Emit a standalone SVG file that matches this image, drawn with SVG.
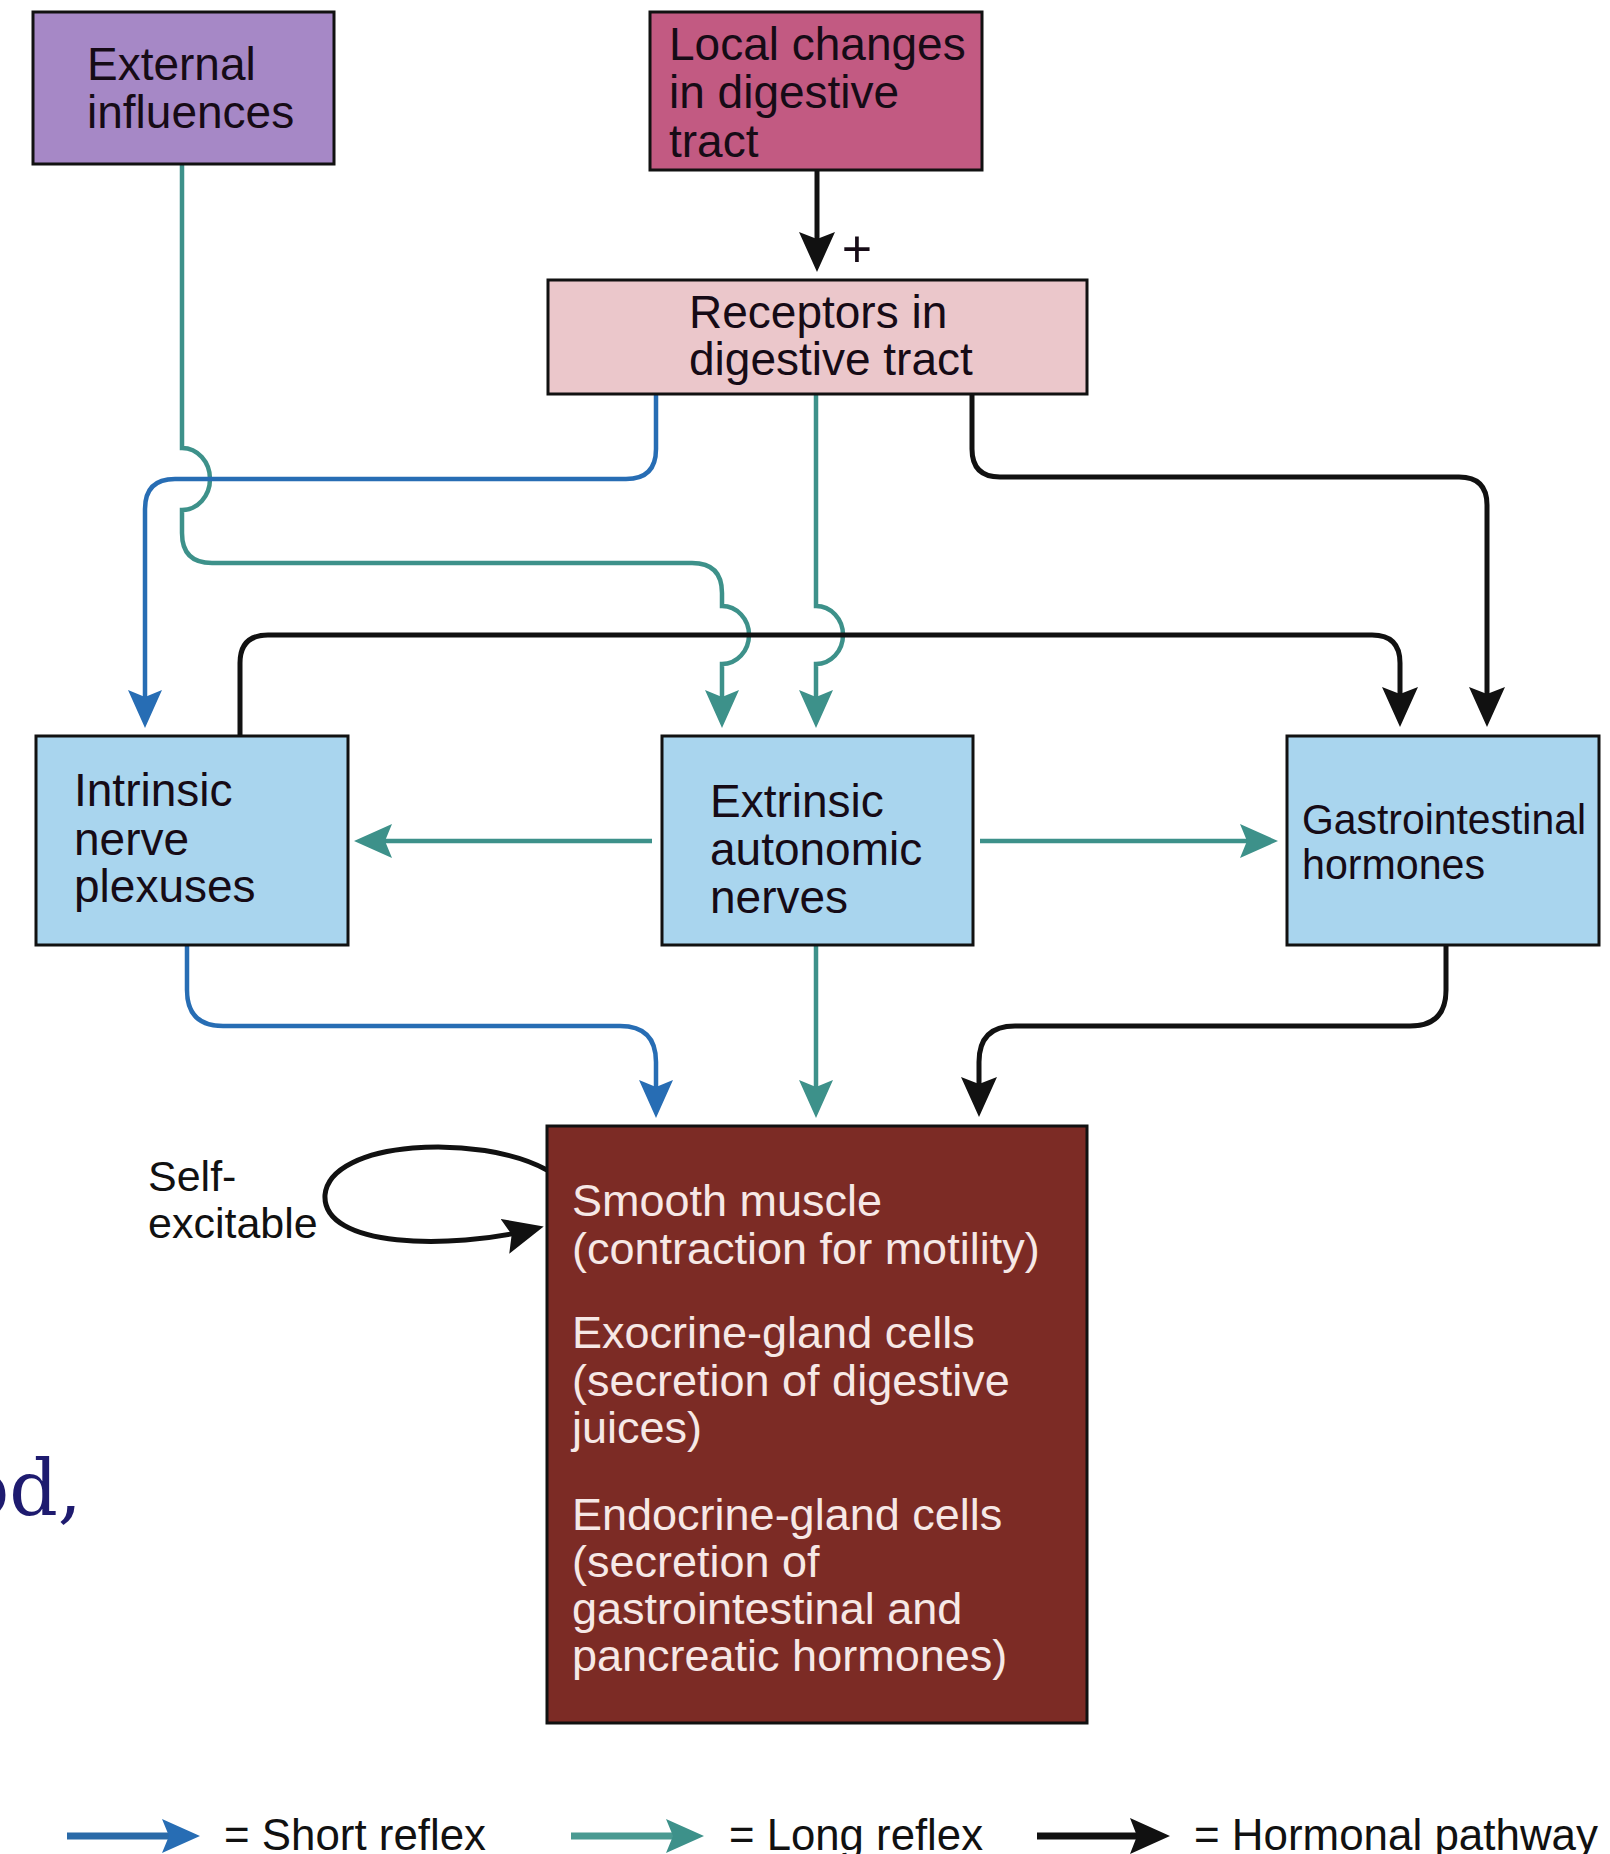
<svg xmlns="http://www.w3.org/2000/svg" width="1610" height="1854" viewBox="0 0 1610 1854">
<style>
  .box { stroke: #111; stroke-width: 3; }
  .lbl { font-family: "Liberation Sans", Arial, sans-serif; font-size: 46px; fill: #160b16; }
  .eff { font-family: "Liberation Sans", Arial, sans-serif; font-size: 45px; fill: #f6e8e6; }
  .leg { font-family: "Liberation Sans", Arial, sans-serif; font-size: 44px; fill: #111; }
  .blue { fill: none; stroke: #276db4; stroke-width: 4.5; }
  .teal { fill: none; stroke: #3d918a; stroke-width: 4.5; }
  .black { fill: none; stroke: #111; stroke-width: 5; }
</style>
<defs>
  <marker id="ahBlue" markerUnits="userSpaceOnUse" markerWidth="38" markerHeight="34" viewBox="0 0 38 34" refX="28" refY="17" orient="auto">
    <path d="M0,0 L38,17 L0,34 L7,17 Z" fill="#276db4"/>
  </marker>
  <marker id="ahTeal" markerUnits="userSpaceOnUse" markerWidth="38" markerHeight="34" viewBox="0 0 38 34" refX="28" refY="17" orient="auto">
    <path d="M0,0 L38,17 L0,34 L7,17 Z" fill="#3d918a"/>
  </marker>
  <marker id="ahBlack" markerUnits="userSpaceOnUse" markerWidth="40" markerHeight="36" viewBox="0 0 40 36" refX="30" refY="18" orient="auto">
    <path d="M0,0 L40,18 L0,36 L7,18 Z" fill="#111"/>
  </marker>
</defs>
<rect width="1610" height="1854" fill="#ffffff"/>

<g id="connectors">
  <!-- Local changes -> Receptors -->
  <path class="black" d="M817,170 L817,262" marker-end="url(#ahBlack)"/>
  <!-- External -> Extrinsic (long reflex) -->
  <path class="teal" d="M182,164 L182,448 A28,31 0 0 1 182,510 L182,533 Q182,563 212,563 L692,563 Q722,563 722,593 L722,606 A27,29 0 0 1 722,664 L722,718" marker-end="url(#ahTeal)"/>
  <!-- Receptors -> Extrinsic -->
  <path class="teal" d="M816,394 L816,606 A27,29 0 0 1 816,664 L816,718" marker-end="url(#ahTeal)"/>
  <!-- Receptors -> Intrinsic (short reflex) -->
  <path class="blue" d="M656,394 L656,449 Q656,479 626,479 L175,479 Q145,479 145,509 L145,718" marker-end="url(#ahBlue)"/>
  <!-- Receptors -> GI hormones -->
  <path class="black" d="M972,394 L972,449 Q972,477 1000,477 L1459,477 Q1487,477 1487,505 L1487,717" marker-end="url(#ahBlack)"/>
  <!-- Intrinsic -> GI hormones -->
  <path class="black" d="M240,736 L240,663 Q240,635 268,635 L1372,635 Q1400,635 1400,663 L1400,717" marker-end="url(#ahBlack)"/>
  <!-- Extrinsic -> Intrinsic -->
  <path class="teal" d="M652,841 L364,841" marker-end="url(#ahTeal)"/>
  <!-- Extrinsic -> GI hormones -->
  <path class="teal" d="M980,841 L1268,841" marker-end="url(#ahTeal)"/>
  <!-- Intrinsic -> Effectors -->
  <path class="blue" d="M187,945 L187,990 Q187,1026 223,1026 L620,1026 Q656,1026 656,1062 L656,1108" marker-end="url(#ahBlue)"/>
  <!-- Extrinsic -> Effectors -->
  <path class="teal" d="M816,945 L816,1108" marker-end="url(#ahTeal)"/>
  <!-- GI hormones -> Effectors -->
  <path class="black" d="M1446,945 L1446,990 Q1446,1026 1410,1026 L1015,1026 Q979,1026 979,1062 L979,1107" marker-end="url(#ahBlack)"/>
  <!-- Self-excitable loop -->
  <path class="black" d="M547,1170 C480,1133 330,1140 325,1195 C322,1248 450,1250 534,1229" marker-end="url(#ahBlack)"/>
</g>

<g id="node-external">
  <rect class="box" x="33" y="12" width="301" height="152" fill="#a688c6"/>
  <text class="lbl" x="87" y="80">External</text>
  <text class="lbl" x="87" y="128">influences</text>
</g>

<g id="node-local">
  <rect class="box" x="650" y="12" width="332" height="158" fill="#c25a82"/>
  <text class="lbl" x="669" y="60">Local changes</text>
  <text class="lbl" x="669" y="108">in digestive</text>
  <text class="lbl" x="669" y="157">tract</text>
  <text class="lbl" x="857" y="267" text-anchor="middle" style="font-size:52px">+</text>
</g>

<g id="node-receptors">
  <rect class="box" x="548" y="280" width="539" height="114" fill="#ebc7cb"/>
  <text class="lbl" x="689" y="328">Receptors in</text>
  <text class="lbl" x="689" y="375">digestive tract</text>
</g>

<g id="node-intrinsic">
  <rect class="box" x="36" y="736" width="312" height="209" fill="#a9d5ee"/>
  <text class="lbl" x="74" y="806">Intrinsic</text>
  <text class="lbl" x="74" y="855">nerve</text>
  <text class="lbl" x="74" y="902">plexuses</text>
</g>

<g id="node-extrinsic">
  <rect class="box" x="662" y="736" width="311" height="209" fill="#a9d5ee"/>
  <text class="lbl" x="710" y="817">Extrinsic</text>
  <text class="lbl" x="710" y="865">autonomic</text>
  <text class="lbl" x="710" y="913">nerves</text>
</g>

<g id="node-gi-hormones">
  <rect class="box" x="1287" y="736" width="312" height="209" fill="#a9d5ee"/>
  <text class="lbl" x="1302" y="834" style="font-size:43px" textLength="284" lengthAdjust="spacingAndGlyphs">Gastrointestinal</text>
  <text class="lbl" x="1302" y="879" style="font-size:43px" textLength="183" lengthAdjust="spacingAndGlyphs">hormones</text>
</g>

<g id="node-effectors">
  <rect class="box" x="547" y="1126" width="540" height="597" fill="#7c2b25"/>
  <text class="eff" x="572" y="1216">Smooth muscle</text>
  <text class="eff" x="572" y="1264">(contraction for motility)</text>
  <text class="eff" x="572" y="1348">Exocrine-gland cells</text>
  <text class="eff" x="572" y="1396">(secretion of digestive</text>
  <text class="eff" x="572" y="1443">juices)</text>
  <text class="eff" x="572" y="1530">Endocrine-gland cells</text>
  <text class="eff" x="572" y="1577">(secretion of</text>
  <text class="eff" x="572" y="1624">gastrointestinal and</text>
  <text class="eff" x="572" y="1671">pancreatic hormones)</text>
</g>

<g id="label-self-excitable">
  <text class="leg" x="148" y="1191" style="font-size:43px">Self-</text>
  <text class="leg" x="148" y="1238" style="font-size:43px">excitable</text>
</g>

<g id="stray-text">
  <text x="82" y="1515" text-anchor="end" style="font-family:'DejaVu Serif','Liberation Serif',serif;font-size:76px;fill:#1e1b6f">od,</text>
</g>

<g id="legend">
  <path d="M67,1836 L190,1836" stroke="#2a6aa8" stroke-width="7" fill="none" marker-end="url(#ahBlue)"/>
  <text class="leg" x="224" y="1850" textLength="262" lengthAdjust="spacingAndGlyphs">= Short reflex</text>
  <path d="M571,1836 L694,1836" stroke="#4a9a92" stroke-width="7" fill="none" marker-end="url(#ahTeal)"/>
  <text class="leg" x="729" y="1850" textLength="254" lengthAdjust="spacingAndGlyphs">= Long reflex</text>
  <path d="M1037,1836 L1160,1836" stroke="#111" stroke-width="7" fill="none" marker-end="url(#ahBlack)"/>
  <text class="leg" x="1194" y="1850" textLength="404" lengthAdjust="spacingAndGlyphs">= Hormonal pathway</text>
</g>
</svg>
